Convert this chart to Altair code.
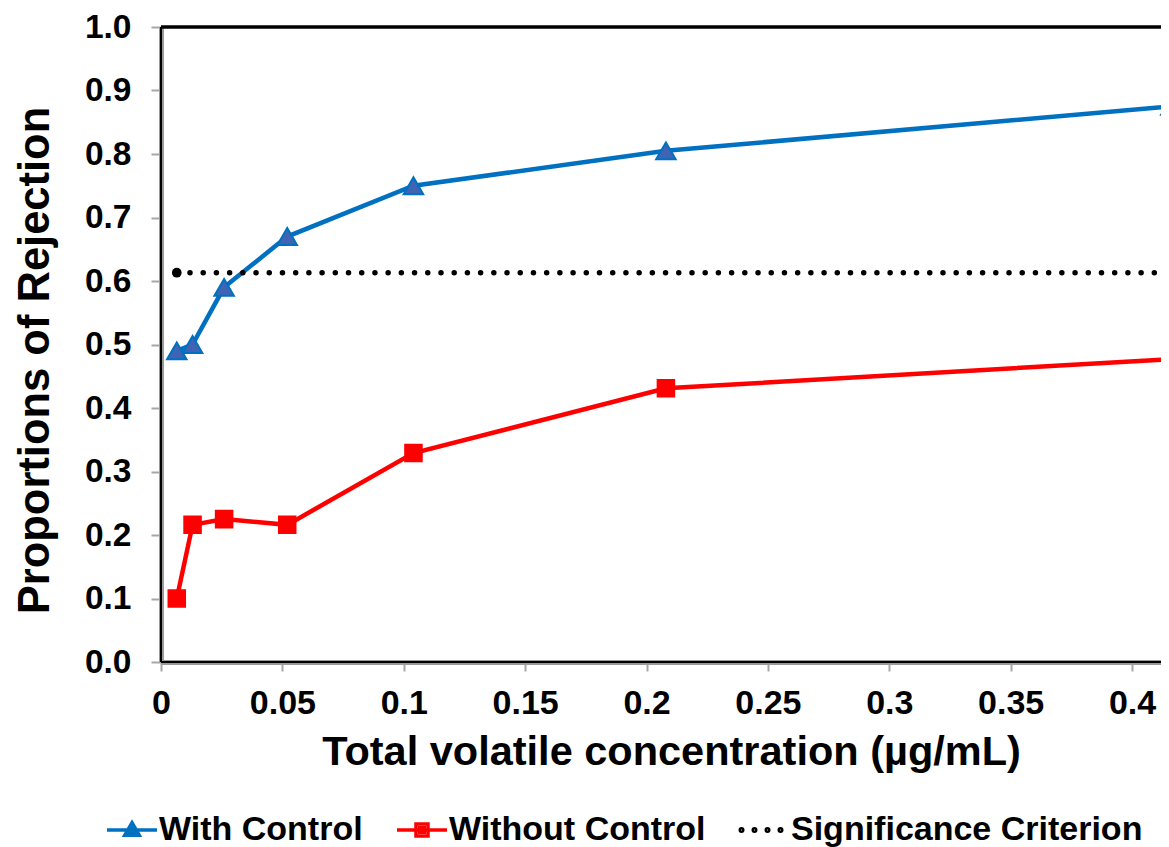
import altair as alt
import pandas as pd

# ---- data ----
conc = [0.0065, 0.013, 0.026, 0.052, 0.104, 0.208, 0.416]
with_control = [0.49, 0.50, 0.59, 0.67, 0.75, 0.805, 0.875]
without_control = [0.10, 0.216, 0.225, 0.216, 0.329, 0.431, 0.477]
criterion_x = [0.0065, 0.416]
criterion_y = [0.613, 0.613]

series_names = ["With Control", "Without Control", "Significance Criterion"]
series_colors = ["#0070C0", "#FF0000", "#000000"]
x_ticks = [0, 0.05, 0.1, 0.15, 0.2, 0.25, 0.3, 0.35, 0.4]
y_ticks = [0.0, 0.1, 0.2, 0.3, 0.4, 0.5, 0.6, 0.7, 0.8, 0.9, 1.0]

PLOT_W = 1000
X_MAX = PLOT_W / 2427.5
FONT = "Liberation Sans"

rows = []
for x, y in zip(conc, with_control):
    rows.append({"x": x, "y": y, "series": series_names[0]})
for x, y in zip(conc, without_control):
    rows.append({"x": x, "y": y, "series": series_names[1]})
df = pd.DataFrame(rows)
crit = pd.DataFrame({"x": criterion_x, "y": criterion_y, "series": series_names[2]})
legend_df = pd.DataFrame({"x": [0.2] * 3, "y": [-0.5] * 3, "series": series_names})

xscale = alt.Scale(domain=[0, X_MAX], nice=False, zero=False)
yscale = alt.Scale(domain=[0, 1], nice=False)

xaxis = alt.Axis(
    values=x_ticks, format="~g", title="Total volatile concentration (µg/mL)",
    labelFontSize=34, labelFontWeight="bold", labelColor="black", labelPadding=15,
    labelFlush=False, labelOverlap=False,
    tickSize=9, tickColor="#a6a6a6", tickWidth=2,
    domainColor="#9a9a9a", domainWidth=5, grid=False,
    titleFontSize=41.5, titleFontWeight="bold", titleColor="black",
    titleX=510, titleY=102, titleBaseline="alphabetic", titleAlign="center",
)
yaxis = alt.Axis(
    values=y_ticks, format=".1f", title="Proportions of Rejection",
    labelFontSize=33.5, labelFontWeight="bold", labelColor="black", labelPadding=20,
    labelFlush=False, labelOverlap=False,
    tickSize=10, tickColor="#a6a6a6", tickWidth=2,
    domainColor="#9a9a9a", domainWidth=5, grid=False,
    titleFontSize=43.5, titleFontWeight="bold", titleColor="black",
    titleX=-113, titleY=333, titleAngle=270, titleBaseline="alphabetic", titleAlign="center",
)

base = alt.Chart(df)
with_df = base.transform_filter(alt.datum.series == series_names[0])
without_df = base.transform_filter(alt.datum.series == series_names[1])

line_with = with_df.mark_line(strokeWidth=4.5, color=series_colors[0], clip=True).encode(
    x=alt.X("x:Q", scale=xscale, axis=xaxis),
    y=alt.Y("y:Q", scale=yscale, axis=yaxis),
)
line_without = without_df.mark_line(strokeWidth=4.5, color=series_colors[1], clip=True).encode(
    x="x:Q", y="y:Q"
)

tri = with_df.mark_point(
    shape="triangle-up", filled=True, fill="#3F64B4", stroke="#0070C0",
    strokeWidth=2, size=380, opacity=1, clip=True,
).encode(x="x:Q", y="y:Q")

sq = without_df.mark_point(
    shape="square", filled=True, fill="#FF0000", stroke="#FF0000",
    strokeWidth=1.5, size=290, opacity=1, clip=True,
).encode(x="x:Q", y="y:Q")

crit_line = alt.Chart(crit).mark_line(
    color="black", strokeWidth=5.5, strokeDash=[0.01, 13.2], strokeCap="round", clip=True
).encode(x="x:Q", y="y:Q")

crit_ends = alt.Chart(crit).mark_circle(color="black", size=95, opacity=1, clip=True).encode(
    x="x:Q", y="y:Q"
)


def dot(cx, r=0.05):
    return (f"M{cx - r:.2f},0a{r},{r} 0 1,0 {2 * r:.2f},0"
            f"a{r},{r} 0 1,0 {-2 * r:.2f},0")


shape_paths = [
    "M-1,0L1,0M0,-0.29L0.29,0.21L-0.29,0.21ZM0,-0.1L0.12,0.12L-0.12,0.12Z",
    "M-1,0L1,0M-0.24,-0.24L0.24,-0.24L0.24,0.24L-0.24,0.24Z"
    "M-0.09,-0.09L0.09,-0.09L0.09,0.09L-0.09,0.09Z",
    dot(-0.9) + dot(-0.38) + dot(0.14) + dot(0.66),
]

legend = alt.Legend(
    title=None, orient="none", legendX=-56, legendY=776, direction="horizontal",
    columns=3, columnPadding=27, padding=0,
    symbolSize=2500, symbolStrokeWidth=3.5, symbolOpacity=1,
    labelFontSize=34, labelFontWeight="bold", labelColor="black", labelOffset=0,
    labelFont=FONT, labelLimit=600,
)

legend_layer = alt.Chart(legend_df).mark_point(filled=False, clip=True).encode(
    x="x:Q", y="y:Q",
    color=alt.Color("series:N", scale=alt.Scale(domain=series_names, range=series_colors), legend=legend),
    shape=alt.Shape("series:N", scale=alt.Scale(domain=series_names, range=shape_paths), legend=legend),
)

one = alt.Chart(pd.DataFrame({"v": [0]}))
top_rule = one.mark_rule(color="black", strokeWidth=3.5).encode(y=alt.datum(1))
left_rule = one.mark_rule(color="black", strokeWidth=2).encode(x=alt.datum(0))
bottom_rule = one.mark_rule(color="black", strokeWidth=2).encode(y=alt.datum(0))

chart = alt.layer(
    line_with, top_rule, left_rule, bottom_rule, line_without, crit_line, crit_ends,
    tri, sq, legend_layer
).properties(
    width=PLOT_W, height=635,
    autosize=alt.AutoSizeParams(type="none"),
    padding={"left": 153, "top": 19, "right": 0, "bottom": 185},
).configure(font=FONT).configure_view(stroke="transparent")

chart.save("out.html", embed_options={"renderer": "svg", "actions": False})
